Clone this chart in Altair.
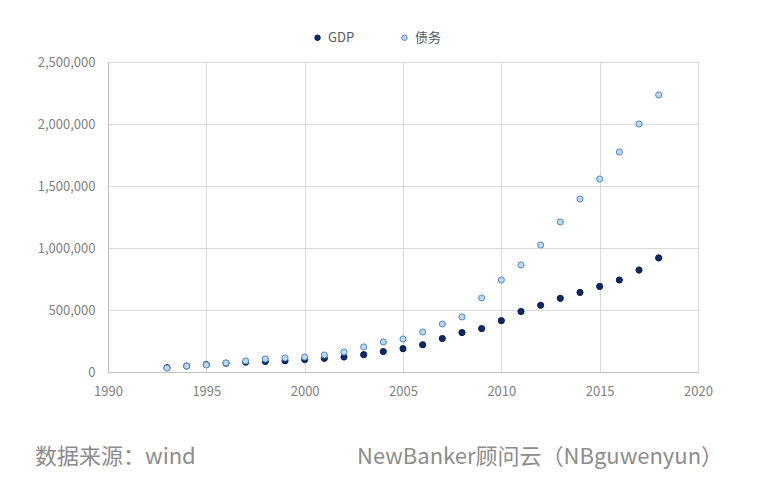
import altair as alt
import pandas as pd

years = list(range(1993, 2019))
gdp = [35000, 48000, 60000, 71000, 79000, 85000, 90000, 100000, 110000, 121000,
       140000, 165000, 188000, 220000, 270000, 318000, 350000, 414000, 488000, 538000,
       594000, 642000, 690000, 742000, 822000, 920000]
debt = [32000, 48000, 57000, 73000, 89000, 105000, 113000, 121000, 137000, 161000,
        202000, 242000, 266000, 323000, 387000, 444000, 597000, 742000, 863000, 1024000,
        1210000, 1395000, 1556000, 1774000, 2000000, 2234000]
series_names = ["GDP", "债务"]

rows = []
for y, v in zip(years, gdp):
    rows.append({"year": y, "value": v, "series": "GDP"})
for y, v in zip(years, debt):
    rows.append({"year": y, "value": v, "series": "债务"})
df = pd.DataFrame(rows)

FONT = "Noto Sans CJK SC"
GRAY = "#7f7f7f"

legend_cfg = dict(title=None, orient="none", direction="horizontal",
                  legendX=203, legendY=-31, columnPadding=43,
                  symbolSize=30, labelFontSize=13, labelColor="#595959",
                  labelFont=FONT, symbolStrokeWidth=1)

points = alt.Chart(df).mark_point(filled=True, size=38, strokeWidth=1, opacity=1).encode(
    x=alt.X("year:Q", scale=alt.Scale(domain=[1990, 2020], nice=False),
            axis=alt.Axis(values=[1990, 1995, 2000, 2005, 2010, 2015, 2020], format="d",
                          title=None, grid=True, ticks=False, labelPadding=13, labelFlush=False)),
    y=alt.Y("value:Q", scale=alt.Scale(domain=[0, 2500000], nice=False),
            axis=alt.Axis(values=[0, 500000, 1000000, 1500000, 2000000, 2500000], format=",d",
                          title=None, grid=True, ticks=False, labelPadding=13, labelFlush=False)),
    fill=alt.Fill("series:N", scale=alt.Scale(domain=series_names, range=["#0b2a6b", "#bdd7ee"]),
                  legend=alt.Legend(**legend_cfg)),
    stroke=alt.Stroke("series:N", scale=alt.Scale(domain=series_names, range=["#061a4a", "#4f8ac9"]),
                      legend=alt.Legend(**legend_cfg)),
    shape=alt.value("circle"),
)

footer_left = alt.Chart(pd.DataFrame({"t": ["数据来源：wind"]})).mark_text(
    align="left", baseline="middle", fontSize=22, font=FONT, color="#8c8c8c"
).encode(x=alt.value(-73), y=alt.value(395), text="t:N")

footer_right = alt.Chart(pd.DataFrame({"t": ["NewBanker顾问云（NBguwenyun）"]})).mark_text(
    align="left", baseline="middle", fontSize=22, font=FONT, color="#8c8c8c"
).encode(x=alt.value(249), y=alt.value(395), text="t:N")

chart = alt.layer(points, footer_left, footer_right).properties(
    width=590, height=310,
    autosize=alt.AutoSizeParams(type="none"),
    padding={"left": 100, "top": 54, "right": 63, "bottom": 107},
).configure_view(stroke="#d9d9d9", strokeWidth=1).configure_axis(
    gridColor="#d9d9d9", domainColor="#bfbfbf", labelColor=GRAY, labelFontSize=13,
    labelFont=FONT, domain=True
)

chart.save("out.html", embed_options={"renderer": "svg", "actions": False})
